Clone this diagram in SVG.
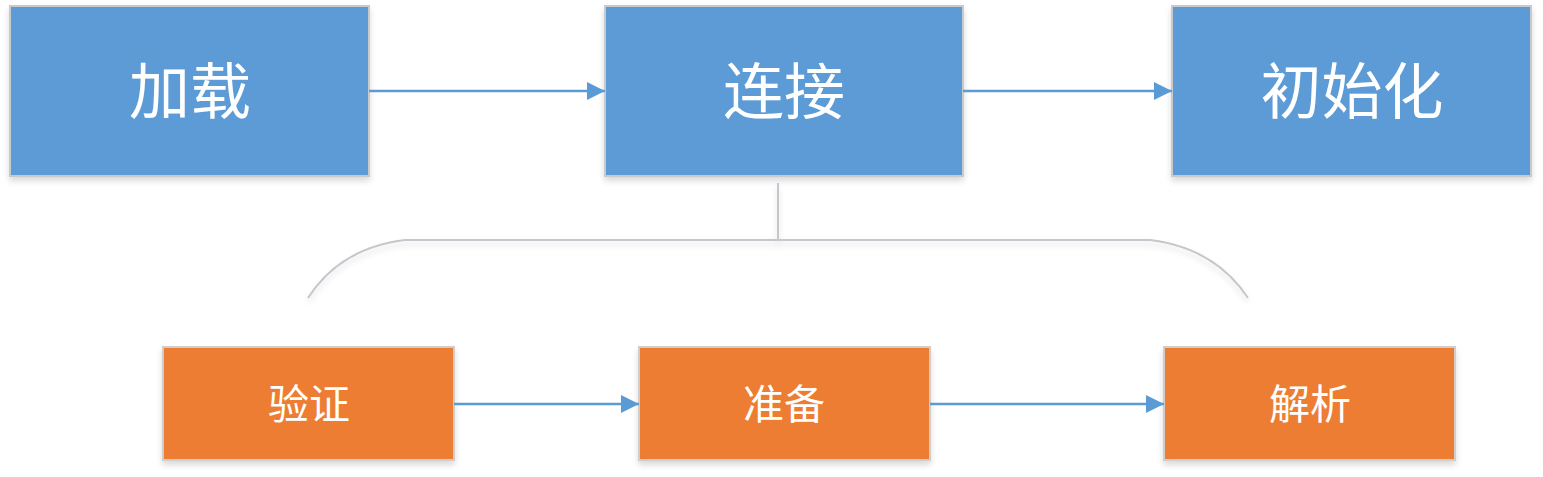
<svg xmlns="http://www.w3.org/2000/svg" width="1543" height="477" viewBox="0 0 1543 477">
<style>
.top rect{fill:#5B9BD5;stroke:#c8cbce;stroke-width:2}
.bot rect{fill:#ED7D31;stroke:#d0cdca;stroke-width:2}
text{font-family:"Noto Sans CJK SC","Microsoft YaHei",sans-serif;fill:#ffffff;text-anchor:middle;dominant-baseline:central}
.top text{font-size:61px}
.bot text{font-size:41px}
.conn{stroke:#5B9BD5;stroke-width:2.5;fill:none}
.brace{stroke:#c4c8cc;stroke-width:2;fill:none}
</style>
<defs>
<marker id="arrB" markerWidth="20" markerHeight="20" refX="18" refY="10" orient="auto" markerUnits="userSpaceOnUse" viewBox="0 0 20 20">
<path d="M0,1 L18,10 L0,19 z" fill="#5B9BD5"/>
</marker>
<filter id="sh" x="-10%" y="-10%" width="120%" height="130%">
<feGaussianBlur in="SourceAlpha" stdDeviation="3"/>
<feOffset dy="4"/>
<feComponentTransfer><feFuncA type="linear" slope="0.15"/></feComponentTransfer>
<feMerge><feMergeNode/><feMergeNode in="SourceGraphic"/></feMerge>
</filter>
</defs>
<g id="n-load" class="top"><rect x="10" y="6" width="359" height="170" filter="url(#sh)"/><text x="190" y="87">加载</text></g>
<g id="n-link" class="top"><rect x="605" y="6" width="358" height="170" filter="url(#sh)"/><text x="784" y="87">连接</text></g>
<g id="n-init" class="top"><rect x="1172" y="6" width="359" height="170" filter="url(#sh)"/><text x="1352" y="87">初始化</text></g>
<g id="n-verify" class="bot"><rect x="163" y="347" width="291" height="113" filter="url(#sh)"/><text x="309" y="401">验证</text></g>
<g id="n-prepare" class="bot"><rect x="639" y="347" width="291" height="113" filter="url(#sh)"/><text x="784" y="401">准备</text></g>
<g id="n-resolve" class="bot"><rect x="1164" y="347" width="291" height="113" filter="url(#sh)"/><text x="1310" y="401">解析</text></g>
<g id="connectors">
<path class="conn" d="M369,91 L605,91" marker-end="url(#arrB)"/>
<path class="conn" d="M963,91 L1172,91" marker-end="url(#arrB)"/>
<path class="conn" d="M454,404 L639,404" marker-end="url(#arrB)"/>
<path class="conn" d="M930,404 L1164,404" marker-end="url(#arrB)"/>
<g filter="url(#sh)">
<path class="brace" d="M778,183 L778,240"/>
<path class="brace" d="M308,298 Q340,248 405,240 L1150,240 Q1215,248 1248,298"/>
</g>
</g>
</svg>
